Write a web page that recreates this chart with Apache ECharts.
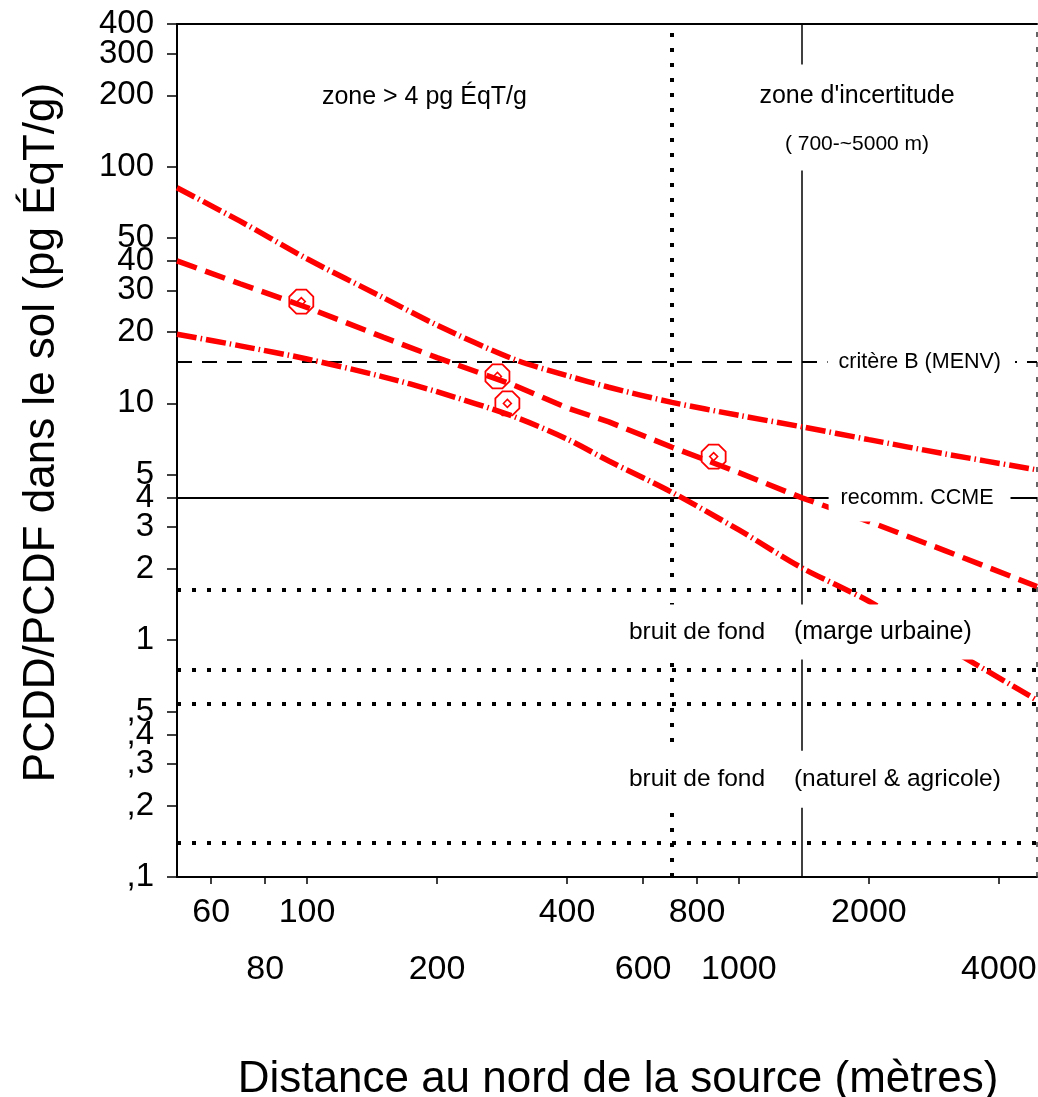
<!DOCTYPE html>
<html>
<head>
<meta charset="utf-8">
<script src="https://cdn.jsdelivr.net/npm/echarts@6/dist/echarts.min.js"></script>
<style>
  html, body { margin: 0; padding: 0; background: #fff; }
  #chart { width: 1038px; height: 1097px; }
</style>
</head>
<body>
<div id="chart"></div>
<script>
// Distances (m) at which the regression line and its confidence band are sampled
const distances = [50, 70, 100, 150, 200, 300, 400, 500, 700, 1000, 1400, 2000, 3000, 4900];
const upperBand = [81.4, 58.8, 40.8, 28.0, 21.4, 15.4, 13.1, 11.7, 10.1, 8.9, 7.96, 7.03, 6.12, 5.24];
const fitted    = [40.0, 32.0, 25.4, 19.05, 15.6, 11.98, 9.58, 8.35, 6.53, 5.1, 3.99, 3.17, 2.39, 1.685];
const lowerBand = [19.6, 17.5, 15.4, 12.95, 11.2, 8.82, 7.07, 5.71, 4.21, 2.92, 2.02, 1.46, 0.944, 0.558];

// Soil samples: distance (m) and PCDD/PCDF level (pg ÉqT/g)
const sampleDistance = [97, 276, 291, 874];
const sampleLevel    = [26.9, 13.0, 10.0, 5.96];

// Guideline and background levels (pg ÉqT/g)
const critereB = 15;
const ccmeLevel = 4;
const backgroundLevels = [1.63, 0.75, 0.54, 0.14];

// Distance limits (m)
const zoneStart = 700;
const zoneMid = 1400;
const zoneEnd = 4900;

// Axis ranges and ticks
const xMin = 50, xMax = 4900;
const yMin = 0.1, yMax = 400;
const xTicks = [60, 80, 100, 200, 400, 600, 800, 1000, 2000, 4000];
const xTicksLowerRow = [80, 200, 600, 1000, 4000];
const yTicks = [0.1, 0.2, 0.3, 0.4, 0.5, 1, 2, 3, 4, 5, 10, 20, 30, 40, 50, 100, 200, 300, 400];

// Annotation texts
const zoneAbove = 'zone > 4 pg ÉqT/g';
const zoneUncertain = "zone d'incertitude";
const zoneUncertainRange = '( 700-~5000 m)';
const critereLabel = 'critère B (MENV)';
const ccmeLabel = 'recomm. CCME';
const bruitLabel = 'bruit de fond';
const bruitZones = ['(marge urbaine)', '(naturel & agricole)'];

const font = '"Liberation Sans", Arial, sans-serif';
const pairs = (xs, ys) => xs.map((x, i) => [x, ys[i]]);
const octagon = 'path://M0.293,0 L0.707,0 L1,0.293 L1,0.707 L0.707,1 L0.293,1 L0,0.707 L0,0.293 Z';
const dotted = { color: '#000', width: 4, type: [4, 11], cap: 'butt' };

function txt(size) {
  return { fontFamily: font, fontSize: size, color: '#000' };
}

// Text boxes placed in data coordinates; the white box masks the lines under it
const annotationData = [
  {
    value: [187, 197],
    label: { position: 'inside', formatter: zoneAbove, ...txt(25), padding: [4, 6] }
  },
  {
    value: [1877, 161],
    label: {
      position: 'inside',
      formatter: '{a|' + zoneUncertain + '}\n{b|' + zoneUncertainRange + '}',
      padding: [8, 10, 2, 10],
      rich: {
        a: { ...txt(25), lineHeight: 48 },
        b: { ...txt(21), lineHeight: 48 }
      }
    }
  },
  {
    value: [1600, critereB],
    label: { position: 'right', distance: 0, formatter: critereLabel, ...txt(21.5), padding: [6, 14, 6, 11] }
  },
  {
    value: [1609, ccmeLevel],
    label: { position: 'right', distance: 0, formatter: ccmeLabel, ...txt(21.5), padding: [13, 17, 13, 12] }
  },
  {
    value: [526, 1.082],
    label: {
      position: 'right', distance: 0,
      formatter: '{a|' + bruitLabel + '}{b|' + bruitZones[0] + '}',
      padding: [15, 6, 15, 10],
      rich: { a: { ...txt(24.5), width: 165 }, b: { ...txt(25) } }
    }
  },
  {
    value: [526, 0.259],
    label: {
      position: 'right', distance: 0,
      formatter: '{a|' + bruitLabel + '}{b|' + bruitZones[1] + '}',
      padding: [16, 6, 16, 10],
      rich: { a: { ...txt(24.5), width: 165 }, b: { ...txt(24.5) } }
    }
  }
];

const yLabelFormatter = v => {
  const n = Number(Number(v).toPrecision(6));
  return n < 1 ? ',' + String(n).split('.')[1] : String(n);
};

// The top tick sits on its own axis so that its label is never dropped for touching "300"
function yAxisFor(values, withLine) {
  return {
    type: 'log', min: yMin, max: yMax, position: 'left',
    axisLine: { show: withLine, onZero: false, lineStyle: { color: '#000', width: 2 } },
    axisTick: { show: true, customValues: values, length: 10, lineStyle: { color: '#000', width: 1.5 } },
    axisLabel: {
      customValues: values, margin: 23, hideOverlap: false,
      fontFamily: font, fontSize: 33, color: '#000',
      formatter: yLabelFormatter
    },
    splitLine: { show: false }, minorTick: { show: false }
  };
}

const yMain = yAxisFor(yTicks.filter(v => v < yMax), true);
yMain.name = 'PCDD/PCDF dans le sol (pg ÉqT/g)';
yMain.nameLocation = 'middle';
yMain.nameRotate = 90;
yMain.nameGap = 113;
yMain.nameTextStyle = { fontFamily: font, fontSize: 44, color: '#000', padding: [0, 0, 0, 36] };
const yTop = yAxisFor(yTicks.filter(v => v >= yMax), false);

const chart = echarts.init(document.getElementById('chart'), null, { renderer: 'canvas' });

const option = {
  animation: false,
  backgroundColor: '#fff',
  grid: { left: 177, right: 1, top: 24, bottom: 220, containLabel: false, outerBoundsMode: 'none' },
  xAxis: [
    {
      type: 'log', min: xMin, max: xMax, position: 'bottom',
      name: 'Distance au nord de la source (mètres)',
      nameLocation: 'middle', nameGap: 181,
      nameTextStyle: { fontFamily: font, fontSize: 44, color: '#000', padding: [0, 0, 0, 22] },
      axisLine: { show: true, onZero: false, lineStyle: { color: '#000', width: 2 } },
      axisTick: { show: true, customValues: xTicks, length: 7, lineStyle: { color: '#000', width: 1.5 } },
      axisLabel: {
        customValues: xTicks, margin: 7.5, lineHeight: 57, hideOverlap: false,
        fontFamily: font, fontSize: 34, color: '#000',
        formatter: v => {
          const n = Math.round(v);
          return xTicksLowerRow.includes(n) ? '\n' + n : String(n);
        }
      },
      splitLine: { show: false }, minorTick: { show: false }, minorSplitLine: { show: false }
    },
    {
      type: 'log', min: xMin, max: xMax, position: 'top',
      axisLine: { show: true, onZero: false, lineStyle: { color: '#000', width: 2 } },
      axisTick: { show: false }, axisLabel: { show: false }, splitLine: { show: false }
    }
  ],
  yAxis: [yMain, yTop],
  series: [
    {
      name: 'repères',
      type: 'scatter',
      data: [],
      z: 2,
      silent: true,
      markLine: {
        silent: true,
        symbol: ['none', 'none'],
        label: { show: false },
        emphasis: { disabled: true },
        data: [
          { xAxis: zoneStart, lineStyle: dotted },
          { xAxis: zoneMid, lineStyle: { color: '#000', width: 1.5, type: 'solid' } },
          { xAxis: zoneEnd, lineStyle: { color: '#333', width: 1.5, type: [5, 10] } },
          { yAxis: critereB, lineStyle: { color: '#000', width: 2, type: [15, 10] } },
          { yAxis: ccmeLevel, lineStyle: { color: '#000', width: 2, type: 'solid' } },
          ...backgroundLevels.map(v => ({ yAxis: v, lineStyle: dotted }))
        ]
      }
    },
    {
      name: 'borne supérieure',
      type: 'line', data: pairs(distances, upperBand),
      showSymbol: false, smooth: 0.3, z: 5, silent: true,
      lineStyle: { color: '#ff0000', width: 5.5, type: [20, 4, 1.5, 4], cap: 'butt' }
    },
    {
      name: 'régression',
      type: 'line', data: pairs(distances, fitted),
      showSymbol: false, smooth: false, z: 5, silent: true,
      lineStyle: { color: '#ff0000', width: 5.5, type: [21, 9], cap: 'butt' }
    },
    {
      name: 'borne inférieure',
      type: 'line', data: pairs(distances, lowerBand),
      showSymbol: false, smooth: 0.3, z: 5, silent: true,
      lineStyle: { color: '#ff0000', width: 5.5, type: [20, 4, 1.5, 4], cap: 'butt' }
    },
    {
      name: 'échantillons',
      type: 'scatter', data: pairs(sampleDistance, sampleLevel),
      symbol: octagon, symbolSize: 24, z: 8, silent: true,
      itemStyle: { color: 'rgba(0,0,0,0)', borderColor: '#ff0000', borderWidth: 1.8, opacity: 1 }
    },
    {
      name: 'échantillons (centre)',
      type: 'scatter', data: pairs(sampleDistance, sampleLevel),
      symbol: 'diamond', symbolSize: 8, z: 8, silent: true,
      itemStyle: { color: 'rgba(0,0,0,0)', borderColor: '#ff0000', borderWidth: 1.5, opacity: 1 }
    },
    {
      name: 'annotations',
      type: 'scatter', data: annotationData,
      symbol: 'circle', symbolSize: 1, z: 10, silent: true,
      itemStyle: { color: 'rgba(0,0,0,0)', opacity: 1 },
      label: { show: true, backgroundColor: '#fff', opacity: 1 },
      emphasis: { disabled: true }
    }
  ]
};

chart.setOption(option);
</script>
</body>
</html>
